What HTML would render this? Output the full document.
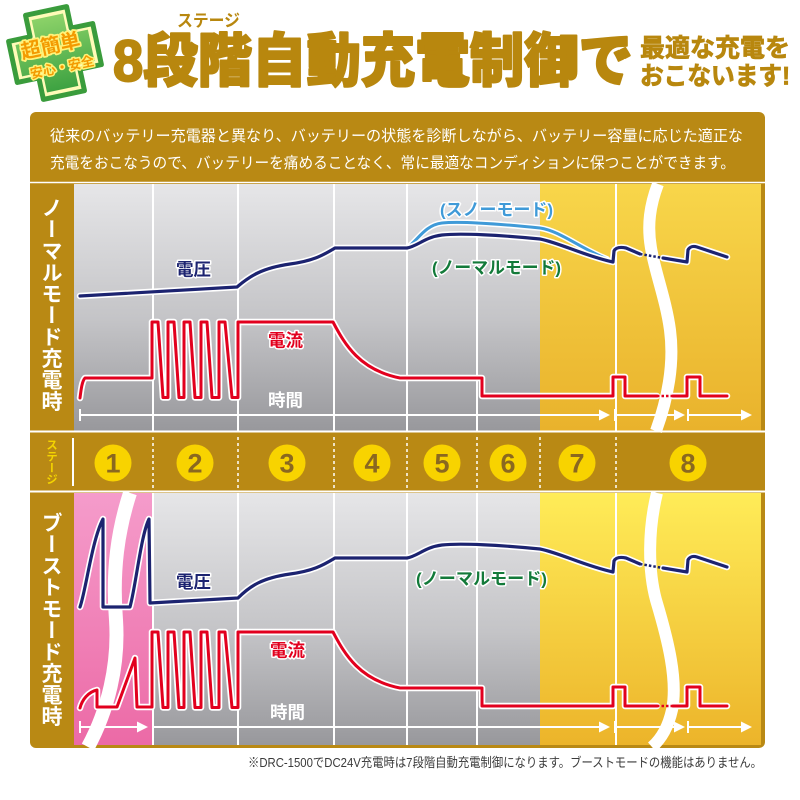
<!DOCTYPE html>
<html><head><meta charset="utf-8">
<style>
html,body{margin:0;padding:0;background:#fff;}
#w{position:relative;width:800px;height:800px;overflow:hidden;font-family:"Liberation Sans","Noto Sans CJK JP",sans-serif;}
svg{position:absolute;left:0;top:0;}
.v{position:absolute;writing-mode:vertical-rl;font-weight:bold;color:#fff;font-family:"Noto Sans CJK JP",sans-serif;white-space:nowrap;}
</style></head><body><div id="w">
<svg width="800" height="800" viewBox="0 0 800 800" xmlns="http://www.w3.org/2000/svg" font-family="'Liberation Sans','Noto Sans CJK JP',sans-serif">
<defs>
<linearGradient id="gT" x1="0" y1="184" x2="0" y2="431" gradientUnits="userSpaceOnUse"><stop offset="0" stop-color="#e6e6e8"/><stop offset="0.55" stop-color="#c4c4c7"/><stop offset="1" stop-color="#98989c"/></linearGradient>
<linearGradient id="gB" x1="0" y1="493" x2="0" y2="745" gradientUnits="userSpaceOnUse"><stop offset="0" stop-color="#e6e6e8"/><stop offset="0.55" stop-color="#c4c4c7"/><stop offset="1" stop-color="#98989c"/></linearGradient>
<linearGradient id="yT" x1="0" y1="184" x2="0" y2="431" gradientUnits="userSpaceOnUse"><stop offset="0" stop-color="#f8d64a"/><stop offset="1" stop-color="#e9b22c"/></linearGradient>
<linearGradient id="yB" x1="0" y1="493" x2="0" y2="745" gradientUnits="userSpaceOnUse"><stop offset="0" stop-color="#ffec58"/><stop offset="1" stop-color="#ecb42a"/></linearGradient>
<linearGradient id="pB" x1="0" y1="493" x2="0" y2="745" gradientUnits="userSpaceOnUse"><stop offset="0" stop-color="#f59ccb"/><stop offset="1" stop-color="#ec6aa6"/></linearGradient>
<linearGradient id="gg" x1="0" y1="-40" x2="0" y2="40" gradientUnits="userSpaceOnUse"><stop offset="0" stop-color="#8fd46a"/><stop offset="1" stop-color="#3aa040"/></linearGradient>

<path id="vT" d="M80,296 L237,287 C250,276 262,268 290,264 C312,261 322,256 335,248 L407,248 C418,246 425,237 442,235 C460,233 500,235 540,239 C560,243 585,256 613,262 L614,251 C616,247 621,247 626,248 L640,254"/>
<path id="vT2" d="M663,258 L687,262 L688,250 C690,246 694,246 697,247 L727,257"/>
<path id="sT" d="M407,248 C418,240 425,225 442,223 C460,221 500,224 540,228 C560,231 578,247 607,259"/>
<path id="cT" d="M80,398 C81,390 82,381 85,378 L152,378 L152,322 L158,322 L163,397.5 L168,397.5 L168,322 L174,322 L179,397.5 L184,397.5 L184,322 L190,322 L195,397.5 L201,397.5 L201,322 L207,322 L212,397.5 L219,397.5 L219,322 L225,322 L232,397.5 L238,397.5 L238,322 L333,322 C345,345 360,370 400,378 L482,378 L482,396 L613,396 L613,377 L625,377 L625,396 L657,396"/>
<path id="cT2" d="M673,396 L687,396 L687,377 L700,377 L700,396 L727,396"/>

<path id="vB" d="M80,607 C86,590 92,540 103,519 L103,607 L130,607 C136,585 141,535 149,519 L150,603 L238,598 C250,586 262,578 290,574 C312,571 322,566 335,558 L407,558 C418,556 425,547 442,545 C460,543 500,545 540,549 C560,553 585,566 613,572 L614,561 C616,557 621,557 626,558 L640,564"/>
<path id="vB2" d="M663,568 L687,572 L688,560 C690,556 694,556 697,557 L727,567"/>
<path id="cB" d="M80,708 C82,700 88,692 97,690 L97,707 L117,707 L135,658 L137,707 L152,707 L152,632 L158,632 L163,707.5 L168,707.5 L168,632 L174,632 L179,707.5 L184,707.5 L184,632 L190,632 L195,707.5 L201,707.5 L201,632 L207,632 L212,707.5 L219,707.5 L219,632 L225,632 L232,707.5 L238,707.5 L238,632 L333,632 C345,655 360,680 400,688 L482,688 L482,706 L613,706 L613,687 L625,687 L625,706 L657,706"/>
<path id="cB2" d="M673,706 L687,706 L687,687 L700,687 L700,706 L727,706"/>
</defs>

<!-- badge -->
<g transform="translate(55,53) rotate(-12)">
 <path d="M-21,-43 H21 V-21 H43 V21 H21 V43 H-21 V21 H-43 V-21 H-21 Z" fill="#fffbb8" stroke="#3a9c3c" stroke-width="5" stroke-linejoin="round"/>
 <path d="M-16,-37 H16 V-16 H37 V16 H16 V37 H-16 V16 H-37 V-16 H-16 Z" fill="url(#gg)" stroke-linejoin="round"/>
 <text x="-3" y="-1" font-size="20" font-weight="bold" text-anchor="middle" fill="#f39a00" stroke="#fff27a" stroke-width="3.5" paint-order="stroke" stroke-linejoin="round">超簡単</text>
 <text x="4" y="20" font-size="13" font-weight="bold" text-anchor="middle" fill="#f39a00" stroke="#fff27a" stroke-width="3" paint-order="stroke" stroke-linejoin="round">安心・安全</text>
</g>

<!-- title -->
<text x="177" y="26.5" font-size="17" font-weight="bold" fill="#b8870e" textLength="63" lengthAdjust="spacingAndGlyphs">ステージ</text>
<text x="113" y="81" font-size="58" font-weight="900" fill="#b8870e" stroke="#b8870e" stroke-width="2" stroke-linejoin="round" textLength="520" lengthAdjust="spacingAndGlyphs">8段階自動充電制御で</text>
<text x="640" y="56.5" font-size="25" font-weight="bold" fill="#b8870e" stroke="#b8870e" stroke-width="0.8" textLength="150" lengthAdjust="spacingAndGlyphs">最適な充電を</text>
<text x="640" y="84.5" font-size="25" font-weight="bold" fill="#b8870e" stroke="#b8870e" stroke-width="0.8" textLength="150" lengthAdjust="spacingAndGlyphs">おこないます!</text>

<!-- box -->
<rect x="30" y="112" width="735" height="636" rx="6" fill="#b98914"/>
<text x="50" y="141" font-size="15.5" fill="#fff" textLength="693" lengthAdjust="spacingAndGlyphs">従来のバッテリー充電器と異なり、バッテリーの状態を診断しながら、バッテリー容量に応じた適正な</text>
<text x="50" y="168" font-size="15.5" fill="#fff" textLength="685" lengthAdjust="spacingAndGlyphs">充電をおこなうので、バッテリーを痛めることなく、常に最適なコンディションに保つことができます。</text>
<line x1="30" y1="182.5" x2="765" y2="182.5" stroke="#fff" stroke-width="1.5"/>

<!-- top chart bg -->
<rect x="74" y="184" width="466" height="247" fill="url(#gT)"/>
<rect x="540" y="184" width="221" height="247" fill="url(#yT)"/>
<path d="M658,184 C650,205 647,225 651,248 C655,272 666,300 670,330 C674,360 669,395 656,431" fill="none" stroke="#fff" stroke-width="12"/>
<g stroke="#fff" stroke-width="2">
<line x1="153" y1="184" x2="153" y2="431"/><line x1="238" y1="184" x2="238" y2="431"/><line x1="334" y1="184" x2="334" y2="431"/><line x1="407" y1="184" x2="407" y2="431"/><line x1="477" y1="184" x2="477" y2="431"/><line x1="616" y1="184" x2="616" y2="431"/>
</g>
<!-- top time arrow -->
<g stroke="#fff" stroke-width="2" fill="#fff">
<line x1="80" y1="415" x2="600" y2="415"/><line x1="80" y1="409" x2="80" y2="421"/>
<line x1="615" y1="415" x2="676" y2="415"/><line x1="615" y1="409" x2="615" y2="421"/>
<line x1="688" y1="415" x2="743" y2="415"/><line x1="688" y1="409" x2="688" y2="421"/>
<polygon points="610,415 599,409.5 599,420.5" stroke="none"/><polygon points="685,415 674,409.5 674,420.5" stroke="none"/><polygon points="752,415 741,409.5 741,420.5" stroke="none"/>
</g>
<!-- top lines -->
<g fill="none" stroke-linejoin="round" stroke-linecap="round">
<use href="#sT" stroke="#fff" stroke-width="6"/><use href="#sT" stroke="#3f9ad8" stroke-width="3"/>
<use href="#vT" stroke="#fff" stroke-width="6.5"/><use href="#vT" stroke="#1c2370" stroke-width="3.2"/>
<use href="#vT2" stroke="#fff" stroke-width="6.5"/><use href="#vT2" stroke="#1c2370" stroke-width="3.2"/>
<path d="M640,254 L663,258" stroke="#1c2370" stroke-width="2.5" stroke-dasharray="2.5 2" stroke-linecap="butt"/>
<use href="#cT" stroke="#fff" stroke-width="6.5"/><use href="#cT" stroke="#e2001e" stroke-width="3"/>
<use href="#cT2" stroke="#fff" stroke-width="6.5"/><use href="#cT2" stroke="#e2001e" stroke-width="3"/>
<path d="M657,396 L673,396" stroke="#e2001e" stroke-width="2.5" stroke-dasharray="2.5 2" stroke-linecap="butt"/>
</g>
<g font-weight="bold" stroke="#fff" stroke-width="3" paint-order="stroke" stroke-linejoin="round">
<text x="176" y="275.5" font-size="17.5" fill="#1c2370" textLength="35" lengthAdjust="spacingAndGlyphs">電圧</text>
<text x="268" y="346.5" font-size="17.5" fill="#e2001e" textLength="35" lengthAdjust="spacingAndGlyphs">電流</text>
<text x="268" y="406.5" font-size="17.5" fill="#fff" stroke="none" textLength="35" lengthAdjust="spacingAndGlyphs">時間</text>
<text x="440" y="215.5" font-size="17" fill="#3f9ad8" textLength="113" lengthAdjust="spacingAndGlyphs">(スノーモード)</text>
<text x="432" y="273.5" font-size="17" fill="#137a3a" textLength="129" lengthAdjust="spacingAndGlyphs">(ノーマルモード)</text>
</g>

<!-- stage row -->
<line x1="30" y1="431.5" x2="765" y2="431.5" stroke="#fff" stroke-width="2"/>
<line x1="30" y1="491.5" x2="765" y2="491.5" stroke="#fff" stroke-width="2"/>
<line x1="73" y1="438" x2="73" y2="486" stroke="#fff" stroke-width="2"/>
<g stroke="#fff" stroke-width="1.5" stroke-dasharray="3 3">
<line x1="153" y1="437" x2="153" y2="488"/><line x1="238" y1="437" x2="238" y2="488"/><line x1="334" y1="437" x2="334" y2="488"/><line x1="407" y1="437" x2="407" y2="488"/><line x1="477" y1="437" x2="477" y2="488"/><line x1="540" y1="437" x2="540" y2="488"/><line x1="616" y1="437" x2="616" y2="488"/>
</g>
<g fill="#f8d300"><circle cx="113" cy="463" r="18.5"/><circle cx="195" cy="463" r="18.5"/><circle cx="287" cy="463" r="18.5"/><circle cx="372" cy="463" r="18.5"/><circle cx="442" cy="463" r="18.5"/><circle cx="508" cy="463" r="18.5"/><circle cx="577" cy="463" r="18.5"/><circle cx="688" cy="463" r="18.5"/></g>
<g font-family="'Liberation Sans',sans-serif" font-weight="bold" font-size="27" fill="#8a6820" text-anchor="middle">
<text x="113" y="472.5">1</text><text x="195" y="472.5">2</text><text x="287" y="472.5">3</text><text x="372" y="472.5">4</text><text x="442" y="472.5">5</text><text x="508" y="472.5">6</text><text x="577" y="472.5">7</text><text x="688" y="472.5">8</text>
</g>

<!-- bottom chart bg -->
<rect x="74" y="493" width="79" height="252" fill="url(#pB)"/>
<rect x="153" y="493" width="387" height="252" fill="url(#gB)"/>
<rect x="540" y="493" width="221" height="252" fill="url(#yB)"/>
<path d="M130,493 C118,530 112,570 116,620 C119,665 108,710 88,747" fill="none" stroke="#fff" stroke-width="14"/>
<path d="M657,493 C648,530 648,570 656,600 C668,640 678,680 672,710 C668,728 660,740 652,747" fill="none" stroke="#fff" stroke-width="12"/>
<g stroke="#fff" stroke-width="2">
<line x1="153" y1="493" x2="153" y2="745"/><line x1="238" y1="493" x2="238" y2="745"/><line x1="334" y1="493" x2="334" y2="745"/><line x1="407" y1="493" x2="407" y2="745"/><line x1="477" y1="493" x2="477" y2="745"/><line x1="616" y1="493" x2="616" y2="745"/>
</g>
<g stroke="#fff" stroke-width="2" fill="#fff">
<line x1="80" y1="727" x2="140" y2="727"/><line x1="80" y1="721" x2="80" y2="733"/>
<line x1="152" y1="727" x2="600" y2="727"/>
<line x1="615" y1="727" x2="676" y2="727"/><line x1="615" y1="721" x2="615" y2="733"/>
<line x1="688" y1="727" x2="743" y2="727"/><line x1="688" y1="721" x2="688" y2="733"/>
<polygon points="148,727 137,721.5 137,732.5" stroke="none"/><polygon points="610,727 599,721.5 599,732.5" stroke="none"/><polygon points="685,727 674,721.5 674,732.5" stroke="none"/><polygon points="752,727 741,721.5 741,732.5" stroke="none"/>
</g>
<g fill="none" stroke-linejoin="round" stroke-linecap="round">
<use href="#vB" stroke="#fff" stroke-width="6.5"/><use href="#vB" stroke="#1c2370" stroke-width="3.2"/>
<use href="#vB2" stroke="#fff" stroke-width="6.5"/><use href="#vB2" stroke="#1c2370" stroke-width="3.2"/>
<path d="M640,564 L663,568" stroke="#1c2370" stroke-width="2.5" stroke-dasharray="2.5 2" stroke-linecap="butt"/>
<use href="#cB" stroke="#fff" stroke-width="6.5"/><use href="#cB" stroke="#e2001e" stroke-width="3"/>
<use href="#cB2" stroke="#fff" stroke-width="6.5"/><use href="#cB2" stroke="#e2001e" stroke-width="3"/>
<path d="M657,706 L673,706" stroke="#e2001e" stroke-width="2.5" stroke-dasharray="2.5 2" stroke-linecap="butt"/>
</g>
<g font-weight="bold" stroke="#fff" stroke-width="3" paint-order="stroke" stroke-linejoin="round">
<text x="176" y="588" font-size="17.5" fill="#1c2370" textLength="35" lengthAdjust="spacingAndGlyphs">電圧</text>
<text x="270" y="656.5" font-size="17.5" fill="#e2001e" textLength="35" lengthAdjust="spacingAndGlyphs">電流</text>
<text x="270" y="718.5" font-size="17.5" fill="#fff" stroke="none" textLength="35" lengthAdjust="spacingAndGlyphs">時間</text>
<text x="416" y="584.5" font-size="17" fill="#137a3a" textLength="131" lengthAdjust="spacingAndGlyphs">(ノーマルモード)</text>
</g>

<!-- footer -->
<text x="248" y="767" font-size="13" fill="#3a3a3a" textLength="514" lengthAdjust="spacingAndGlyphs">※DRC-1500でDC24V充電時は7段階自動充電制御になります。ブーストモードの機能はありません。</text>
</svg>

<div class="v" style="left:41px;top:197px;font-size:21px;line-height:22px;letter-spacing:0.5px;">ノーマルモード充電時</div>
<div class="v" style="left:41px;top:512px;font-size:21px;line-height:22px;letter-spacing:0.5px;">ブーストモード充電時</div>
<div class="v" style="left:46px;top:439px;font-size:11.5px;line-height:12px;letter-spacing:0px;color:#f4d400;">ステージ</div>
</div></body></html>
